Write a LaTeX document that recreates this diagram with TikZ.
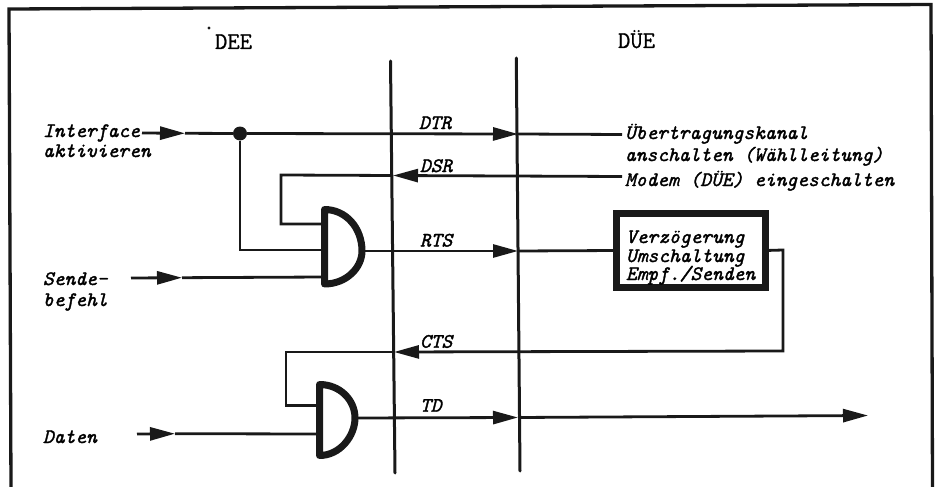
\documentclass[tikz,border=0pt]{standalone}
\usepackage{fontspec}
\newfontfamily\typew[FakeBold=1.6]{Latin Modern Mono}
\newfontfamily\typeh[FakeBold=0.8]{Latin Modern Mono}
\usetikzlibrary{arrows.meta}
\tikzset{
 wire/.style={line width=2.8pt,draw=black!90},
 frameline/.style={line width=3.3pt,draw=black!90,line cap=round,line join=miter},
 busline/.style={line width=3pt,draw=black!90,line cap=round},
 tip/.style={wire,-{Triangle[length=25pt,width=13pt]}},
 gatebody/.style={line width=7pt,draw=black!90,line join=round},
 lab/.style={anchor=base west,inner sep=0pt,outer sep=0pt,font=\fontsize{20.5}{24}\selectfont\typew\itshape},
 head/.style={anchor=base west,inner sep=0pt,outer sep=0pt,font=\fontsize{24}{28}\selectfont\typeh},
 delaybox/.style={draw=black!90,line width=7pt,minimum width=149.5pt,minimum height=74.5pt,inner sep=0pt,outer sep=0pt},
 junction/.style={circle,fill=black!90,minimum size=14pt,inner sep=0pt,outer sep=0pt}
}
\begin{document}
\begin{tikzpicture}[x=1pt,y=-1pt]
\useasboundingbox (0,0) rectangle (938,487);
% frame
\coordinate (fa) at (11,489);\coordinate (fb) at (9,9);\coordinate (fc) at (931,4.5);\coordinate (fd) at (932.5,489);
\draw[frameline] (fa) -- (fb) -- (fc) -- (fd);
% interface lines
\coordinate (b1t) at (390.5,61);\coordinate (b1b) at (395,473);
\coordinate (b2t) at (516.3,58);\coordinate (b2b) at (520,471);
\draw[busline] (b1t) -- (b1b);
\draw[busline] (b2t) -- (b2b);
\node[head] (dee) at (215,49) {DEE};
\node[head] (due) at (618,48) {D\"UE};
\fill[black!90] (209,28) circle (1.7pt);
% DTR
\node[lab] (iface) at (43,137) {Interface};
\node[lab] (aktiv) at (43,157) {aktivieren};
\node[lab] (ueber) at (625,139) {\"Ubertragungskanal};
\node[lab] (ansch) at (625,161) {anschalten (W\"ahlleitung)};
\node[lab] (modem) at (625,186) {Modem (D\"UE) eingeschalten};
\node[junction] (jn) at (240,133.5) {};
\coordinate (d0) at (142,133);\coordinate (d1) at (185,133.3);\coordinate (d2) at (518,134);\coordinate (d3) at (622,134.5);
\draw[tip] (d0) -- (d1);
\draw[wire] (d1) -- (jn);
\draw[tip] (jn) -- (d2);
\draw[wire] (d2) -- (d3);
\node[lab] (dtr) at (419,129) {DTR};
% DSR
\coordinate (s0) at (622,176.5);\coordinate (s1) at (393,175.5);\coordinate (s2) at (281,175);\coordinate (s3) at (281,224);
% gate 1
\coordinate (g1t) at (324.5,209.5);\coordinate (g1b) at (324.5,284);
\coordinate (g1a) at (324.5,224);\coordinate (g1c) at (324.5,250);\coordinate (g1d) at (324.5,277);\coordinate (g1o) at (362,251);
\draw[gatebody,fill=white] (g1t) .. controls (346,209.5) and (362,228) .. (g1o) .. controls (362,268) and (346,284) .. (g1b) -- cycle;
\draw[tip] (s0) -- (s1);
\draw[wire,line join=miter] (s1) -- (s2) -- (s3) -- (g1a);
\node[lab] (dsr) at (420,172) {DSR};
\draw[wire,line join=miter] (jn) -- (240,250) -- (g1c);
% Sende
\node[lab] (sende) at (43,285) {Sende-};
\node[lab] (bef) at (43,306) {befehl};
\coordinate (e0) at (131,278);\coordinate (e1) at (182,277.7);
\draw[tip] (e0) -- (e1);
\draw[wire] (e1) -- (g1d);
% RTS
\node[lab] (rts) at (420,246.5) {RTS};
\node[delaybox] (dly) at (691.2,250.5) {};
\node[lab] (v1) at (626,243) {Verz\"ogerung};
\node[lab] (v2) at (626,262) {Umschaltung};
\node[lab] (v3) at (626,280) {Empf./Senden};
\coordinate (r1) at (518,251);
\draw[tip] (g1o) -- (r1);
\draw[wire] (r1) -- (dly.west);
% CTS
\coordinate (c0) at (783,250);\coordinate (c1) at (783,351);\coordinate (c2) at (394,352);\coordinate (c3) at (286,352);\coordinate (c4) at (286,405.5);
\draw[tip,line join=miter] (dly.east) -- (c0) -- (c1) -- (c2);
\coordinate (g2t) at (319.5,384.5);\coordinate (g2b) at (319.5,455.5);
\coordinate (g2a) at (319.5,405.5);\coordinate (g2d) at (319.5,434);\coordinate (g2o) at (355,418);
\draw[gatebody,fill=white] (g2t) .. controls (340,384.5) and (355,400) .. (g2o) .. controls (355,436) and (340,455.5) .. (g2b) -- cycle;
\draw[wire,line join=miter] (c2) -- (c3) -- (c4) -- (g2a);
\node[lab] (cts) at (420,347.7) {CTS};
% Daten
\node[lab] (daten) at (43,443) {Daten};
\coordinate (a0) at (137,434);\coordinate (a1) at (175,433.7);
\draw[tip] (a0) -- (a1);
\draw[wire] (a1) -- (g2d);
% TD
\node[lab] (td) at (420,411.7) {TD};
\coordinate (t1) at (518,417.5);\coordinate (t2) at (868,415.5);
\draw[tip] (g2o) -- (t1);
\draw[tip] (t1) -- (t2);
\end{tikzpicture}
\end{document}
